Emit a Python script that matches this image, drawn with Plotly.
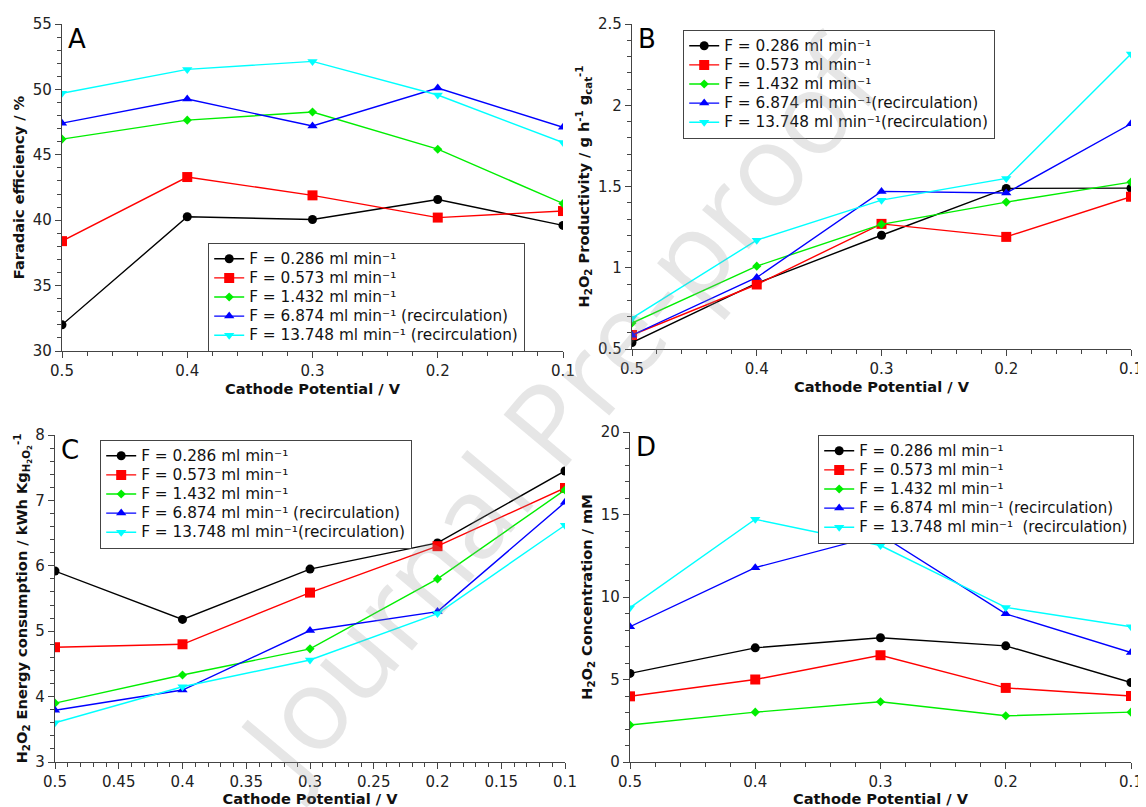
import plotly.graph_objects as go

# ---------------- data ----------------
potential = [0.5, 0.4, 0.3, 0.2, 0.1]

series_names_A = [
    "F = 0.286 ml min⁻¹",
    "F = 0.573 ml min⁻¹",
    "F = 1.432 ml min⁻¹",
    "F = 6.874 ml min⁻¹ (recirculation)",
    "F = 13.748 ml min⁻¹ (recirculation)",
]
series_names_B = [
    "F = 0.286 ml min⁻¹",
    "F = 0.573 ml min⁻¹",
    "F = 1.432 ml min⁻¹",
    "F = 6.874 ml min⁻¹(recirculation)",
    "F = 13.748 ml min⁻¹(recirculation)",
]
series_names_C = [
    "F = 0.286 ml min⁻¹",
    "F = 0.573 ml min⁻¹",
    "F = 1.432 ml min⁻¹",
    "F = 6.874 ml min⁻¹ (recirculation)",
    "F = 13.748 ml min⁻¹(recirculation)",
]
series_names_D = [
    "F = 0.286 ml min⁻¹",
    "F = 0.573 ml min⁻¹",
    "F = 1.432 ml min⁻¹",
    "F = 6.874 ml min⁻¹ (recirculation)",
    "F = 13.748 ml min⁻¹  (recirculation)",
]

# A: Faradaic efficiency (%)
fe_0286 = [32.0, 40.26, 40.05, 41.58, 39.6]
fe_0573 = [38.4, 43.3, 41.9, 40.2, 40.7]
fe_1432 = [46.2, 47.65, 48.27, 45.43, 41.28]
fe_6874 = [47.42, 49.26, 47.2, 50.1, 47.1]
fe_13748 = [49.7, 51.53, 52.14, 49.57, 45.94]

# B: H2O2 productivity (g h-1 gcat-1)
pr_0286 = [0.54, 0.905, 1.20, 1.488, 1.49]
pr_0573 = [0.586, 0.897, 1.27, 1.19, 1.437]
pr_1432 = [0.66, 1.01, 1.267, 1.404, 1.527]
pr_6874 = [0.585, 0.94, 1.47, 1.46, 1.886]
pr_13748 = [0.69, 1.17, 1.416, 1.55, 2.316]

# C: H2O2 energy consumption (kWh kg-1)
ec_0286 = [5.92, 5.18, 5.95, 6.35, 7.45]
ec_0573 = [4.755, 4.80, 5.59, 6.30, 7.19]
ec_1432 = [3.90, 4.33, 4.73, 5.80, 7.16]
ec_6874 = [3.79, 4.10, 5.01, 5.30, 6.97]
ec_13748 = [3.60, 4.15, 4.56, 5.27, 6.62]

# D: H2O2 concentration (mM)
cc_0286 = [5.37, 6.92, 7.53, 7.04, 4.82]
cc_0573 = [3.98, 5.0, 6.47, 4.49, 4.0]
cc_1432 = [2.24, 3.02, 3.65, 2.80, 3.02]
cc_6874 = [8.2, 11.78, 13.78, 8.98, 6.63]
cc_13748 = [9.35, 14.71, 13.12, 9.37, 8.2]

# ---------------- style ----------------
OFF = 8  # page body margin
W, H = 1146 - OFF, 807 - OFF
colors = ["#000000", "#ff0000", "#00ee00", "#0000ff", "#00ffff"]
symbols = ["circle", "square", "diamond", "triangle-up", "triangle-down"]
msizes = [9, 10, 7, 9, 9]
FONT = "DejaVu Sans"


def px_x(p):
    return (p - OFF) / W


def px_y(p):
    return 1 - (p - OFF) / H


def legend_label(txt, size):
    return '<span style="font-size:%gpx">%s</span>' % (size, txt)


fig = go.Figure()

panels = [
    dict(key="", xa="x", ya="y", legend="legend", names=series_names_A, fs=15.3,
         data=[fe_0286, fe_0573, fe_1432, fe_6874, fe_13748]),
    dict(key="2", xa="x2", ya="y2", legend="legend2", names=series_names_B, fs=15.3,
         data=[pr_0286, pr_0573, pr_1432, pr_6874, pr_13748]),
    dict(key="3", xa="x3", ya="y3", legend="legend3", names=series_names_C, fs=15.3,
         data=[ec_0286, ec_0573, ec_1432, ec_6874, ec_13748]),
    dict(key="4", xa="x4", ya="y4", legend="legend4", names=series_names_D, fs=15.0,
         data=[cc_0286, cc_0573, cc_1432, cc_6874, cc_13748]),
]

for p in panels:
    for i, ys in enumerate(p["data"]):
        fig.add_trace(go.Scatter(
            x=potential, y=ys, mode="lines+markers",
            name=legend_label(p["names"][i], p["fs"]),
            xaxis=p["xa"], yaxis=p["ya"], legend=p["legend"],
            line=dict(color=colors[i], width=1.4),
            marker=dict(symbol=symbols[i], size=msizes[i], color=colors[i]),
        ))

# domains in reference pixels: (left, right, top, bottom)
doms = {
    "": (62, 563, 24, 351),
    "2": (632, 1131, 24, 349),
    "3": (55, 565, 435, 762),
    "4": (630, 1131, 432, 762),
}
yranges = {"": [30, 55], "2": [0.5, 2.5], "3": [3, 8], "4": [0, 20]}
ydticks = {"": 5, "2": 0.5, "3": 1, "4": 5}
yminor = {"": 1, "2": 0.1, "3": 0.2, "4": 1}
ytitles = {
    "": "<b>Faradaic efficiency / %</b>",
    "2": "<b>H<sub>2</sub>O<sub>2</sub> Productivity / g h<sup>-1</sup> g<sub>cat</sub><sup>-1</sup></b>",
    "3": "<b>H<sub>2</sub>O<sub>2</sub> Energy consumption / kWh Kg<sub>H<sub>2</sub>O<sub>2</sub></sub><sup>-1</sup></b>",
    "4": "<b>H<sub>2</sub>O<sub>2</sub> Concentration / mM</b>",
}

for k, (l, r, t, b) in doms.items():
    xdt = 0.05 if k == "3" else 0.1
    xminor = 0.01 if k == "3" else 0.02
    axis_common = dict(
        showline=True, linecolor="#444", linewidth=1.2,
        ticks="outside", ticklen=6, tickwidth=1.2, tickcolor="#444",
        showgrid=False, zeroline=False,
        tickfont=dict(family=FONT, size=15, color="#222"),
    )
    fig.layout["xaxis" + k] = dict(
        domain=[px_x(l), px_x(r)],
        anchor="y" + k,
        range=[0.5, 0.1],
        tick0=0.1, dtick=xdt,
        minor=dict(dtick=xminor, tick0=0.1, ticks="outside", ticklen=4,
                   tickcolor="#444", tickwidth=1),
        title=dict(text="<b>Cathode Potential / V</b>",
                   font=dict(family=FONT, size=14.6, color="#111"), standoff=2),
        automargin=False,
        **axis_common,
    )
    fig.layout["yaxis" + k] = dict(
        domain=[px_y(b), px_y(t)],
        anchor="x" + k,
        range=yranges[k],
        tick0=yranges[k][0], dtick=ydticks[k],
        minor=dict(dtick=yminor[k], tick0=yranges[k][0], ticks="outside",
                   ticklen=4, tickcolor="#444", tickwidth=1),
        title=dict(text=ytitles[k],
                   font=dict(family=FONT, size=14.6, color="#111"), standoff=4),
        automargin=False,
        **axis_common,
    )

# legends: (left, top) reference pixels
legpos = {"legend": (208, 243), "legend2": (683, 30), "legend3": (100, 440), "legend4": (818, 435)}
for name, (lx, ty) in legpos.items():
    fig.layout[name] = dict(
        x=px_x(lx), y=px_y(ty), xanchor="left", yanchor="top",
        bgcolor="white", bordercolor="#444", borderwidth=1.2,
        font=dict(family=FONT, size=12.4, color="#111"),
        tracegroupgap=0, itemwidth=30,
    )

annotations = []
# panel letters
for letter, (l, r, t, b) in zip(["A", "B", "C", "D"], doms.values()):
    annotations.append(dict(
        text=letter, x=px_x(l + 4), y=px_y(t - 2), xref="paper", yref="paper",
        xanchor="left", yanchor="top", showarrow=False,
        font=dict(family=FONT, size=26, color="#000"),
    ))
# watermark
annotations.append(dict(
    text="Journal Pre-proof", x=px_x(555), y=px_y(410), xref="paper", yref="paper",
    showarrow=False, textangle=-50,
    font=dict(family="Open Sans", size=114, color="rgba(150,150,150,0.24)"),
))

fig.update_layout(
    width=W, height=H,
    margin=dict(l=0, r=0, t=0, b=0),
    paper_bgcolor="white", plot_bgcolor="white",
    annotations=annotations,
    showlegend=True,
)

fig.write_html("out.html")
